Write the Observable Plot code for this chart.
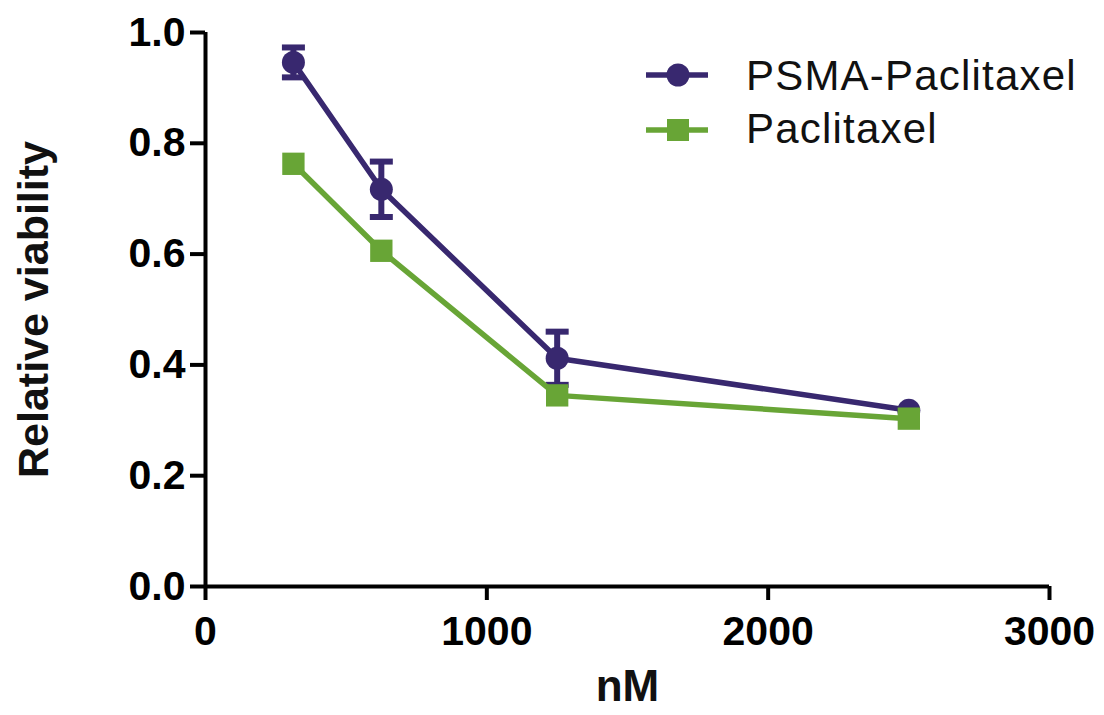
<!DOCTYPE html>
<html>
<head>
<meta charset="utf-8">
<script src="https://cdn.jsdelivr.net/npm/d3@7"></script>
<script src="https://cdn.jsdelivr.net/npm/@observablehq/plot@0.6"></script>
<style>
  html, body { margin: 0; padding: 0; background: #fff; }
  #wrap { position: relative; width: 1104px; height: 715px; font-family: "Liberation Sans", Arial, sans-serif; }
  #legend { position: absolute; left: 0; top: 0; pointer-events: none; }
</style>
</head>
<body>
<div id="wrap"></div>
<script>
// ---- data ----
const concentrations = [312.5, 625, 1250, 2500];        // nM
const psmaMean = [0.946, 0.717, 0.412, 0.318];
const psmaErr = [0.027, 0.050, 0.048, 0];
const paclitaxelMean = [0.763, 0.606, 0.345, 0.303];
const paclitaxelErr = [0, 0, 0, 0];
const seriesNames = ["PSMA-Paclitaxel", "Paclitaxel"];
const seriesColors = ["#38286f", "#68a536"];
const xTicks = [0, 1000, 2000, 3000];
const yTicks = [0, 0.2, 0.4, 0.6, 0.8, 1.0];

const psma = concentrations.map((c, i) => ({x: c, y: psmaMean[i], e: psmaErr[i]}));
const pac = concentrations.map((c, i) => ({x: c, y: paclitaxelMean[i], e: paclitaxelErr[i]}));

const capSymbol = {
  draw(context) { context.rect(-11.5, -3, 23, 6); }
};

const font = "Liberation Sans, Arial, sans-serif";

function errorMarks(data, color) {
  const withErr = data.filter(d => d.e > 0);
  return [
    Plot.ruleX(withErr, {x: "x", y1: d => d.y - d.e, y2: d => d.y + d.e, stroke: color, strokeWidth: 6}),
    Plot.dot(withErr, {x: "x", y: d => d.y + d.e, symbol: capSymbol, fill: color, stroke: "none"}),
    Plot.dot(withErr, {x: "x", y: d => d.y - d.e, symbol: capSymbol, fill: color, stroke: "none"})
  ];
}

const chart = Plot.plot({
  width: 1104,
  height: 715,
  marginLeft: 205,
  marginRight: 55,
  marginTop: 32,
  marginBottom: 129,
  style: {fontFamily: font, background: "#fff", color: "#000", overflow: "visible"},
  x: {domain: [0, 3000]},
  y: {domain: [0, 1]},
  marks: [
    Plot.axisX({ticks: xTicks, tickSize: 14, tickPadding: 15, strokeWidth: 4, fontSize: 41, fontWeight: "bold",
      tickFormat: d3.format("d"), label: null}),
    Plot.axisY({ticks: yTicks, tickSize: 15, tickPadding: 5, strokeWidth: 4, fontSize: 41, fontWeight: "bold",
      tickFormat: d3.format(".1f"), label: null}),
    Plot.text(["nM"], {frameAnchor: "bottom", dy: 114, lineAnchor: "bottom", fontSize: 44, fontWeight: "bold", fill: "#111"}),
    Plot.text(["Relative viability"], {frameAnchor: "left", dx: -188, rotate: -90, textAnchor: "middle", lineAnchor: "top",
      fontSize: 43, fontWeight: "bold", fill: "#111"}),
    Plot.ruleX([0], {strokeWidth: 4, stroke: "#000"}),
    Plot.ruleY([0], {strokeWidth: 4, stroke: "#000"}),
    // PSMA-Paclitaxel
    ...errorMarks(psma, seriesColors[0]),
    Plot.line(psma, {x: "x", y: "y", stroke: seriesColors[0], strokeWidth: 5.5}),
    Plot.dot(psma, {x: "x", y: "y", r: 11.5, symbol: "circle", fill: seriesColors[0], stroke: "none"}),
    // Paclitaxel
    ...errorMarks(pac, seriesColors[1]),
    Plot.line(pac, {x: "x", y: "y", stroke: seriesColors[1], strokeWidth: 5.5}),
    Plot.dot(pac, {x: "x", y: "y", r: 12.6, symbol: "square", fill: seriesColors[1], stroke: "none"})
  ]
});
document.getElementById("wrap").appendChild(chart);

// ---- legend (overlay) ----
const leg = d3.select("#wrap").append("svg")
  .attr("id", "legend").attr("width", 1104).attr("height", 715);
const rows = [
  {name: seriesNames[0], color: seriesColors[0], sym: "circle", cy: 75, base: 90},
  {name: seriesNames[1], color: seriesColors[1], sym: "square", cy: 130, base: 143}
];
rows.forEach(r => {
  const g = leg.append("g");
  g.append("line").attr("x1", 646).attr("x2", 708).attr("y1", r.cy).attr("y2", r.cy)
    .attr("stroke", r.color).attr("stroke-width", 5.5);
  if (r.sym === "circle") {
    g.append("circle").attr("cx", 678).attr("cy", r.cy).attr("r", 11.5).attr("fill", r.color);
  } else {
    g.append("rect").attr("x", 667).attr("y", r.cy - 11).attr("width", 22).attr("height", 22).attr("fill", r.color);
  }
  g.append("text").attr("x", 746).attr("y", r.base).text(r.name)
    .attr("font-family", font).attr("font-size", 42).attr("letter-spacing", "1.2px").attr("fill", "#111");
});
</script>
</body>
</html>
